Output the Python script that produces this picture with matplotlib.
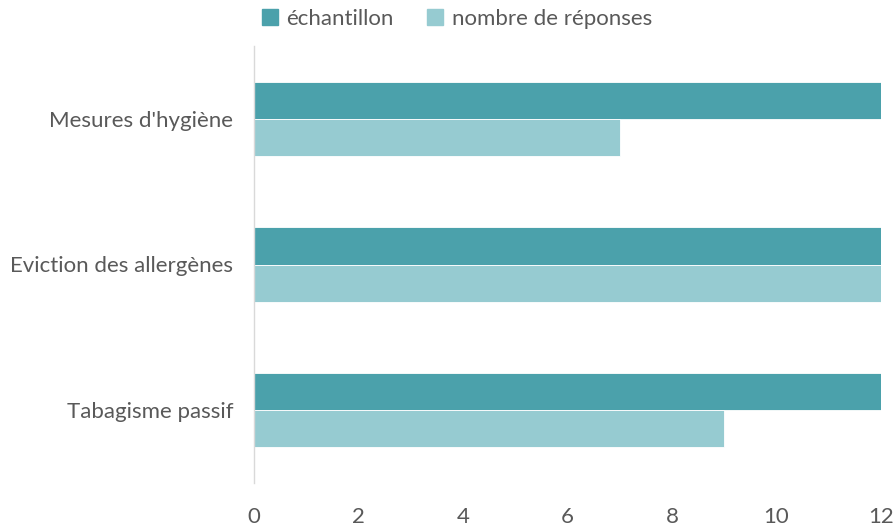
import matplotlib.pyplot as plt
import numpy as np
from matplotlib.patches import Patch

plt.rcParams['font.family'] = ['Lato', 'DejaVu Sans']

categories = ["Mesures d'hygiène", "Eviction des allergènes", "Tabagisme passif"]
echantillon = [12, 12, 12]
reponses = [7, 12, 9]
series_labels = ["échantillon", "nombre de réponses"]
xticks = [0, 2, 4, 6, 8, 10, 12]

dark = "#4BA1AB"
light = "#96CBD1"
text_col = "#595959"

fig = plt.figure(figsize=(8.95, 5.26), dpi=100)
ax = fig.add_axes([254/895, 1-483/526, (881-254)/895, (483-46)/526])

y = np.arange(len(categories))
h = 0.256
ax.barh(y - h/2, echantillon, height=h, color=dark, edgecolor="white", linewidth=0.6)
ax.barh(y + h/2, reponses, height=h, color=light, edgecolor="white", linewidth=0.6)

ax.set_ylim(2.5, -0.5)
ax.set_xlim(0, 12)
ax.set_yticks(y)
ax.set_yticklabels(categories)
ax.set_xticks(xticks)
ax.tick_params(axis="both", length=0, labelsize=16, colors=text_col)
ax.tick_params(axis="x", pad=17)
ax.tick_params(axis="y", pad=15)

for s in ["top", "right", "bottom"]:
    ax.spines[s].set_visible(False)
ax.spines["left"].set_color("#D9D9D9")
ax.spines["left"].set_linewidth(1)

handles = [Patch(color=dark), Patch(color=light)]
leg = fig.legend(handles, series_labels, loc="center", bbox_to_anchor=(457/895, 1-19/526),
                 ncol=2, frameon=False, fontsize=16, handlelength=0.7, handleheight=0.7,
                 handletextpad=0.4, columnspacing=1.5)
for t in leg.get_texts():
    t.set_color(text_col)

fig.savefig("out.png", dpi=100)
